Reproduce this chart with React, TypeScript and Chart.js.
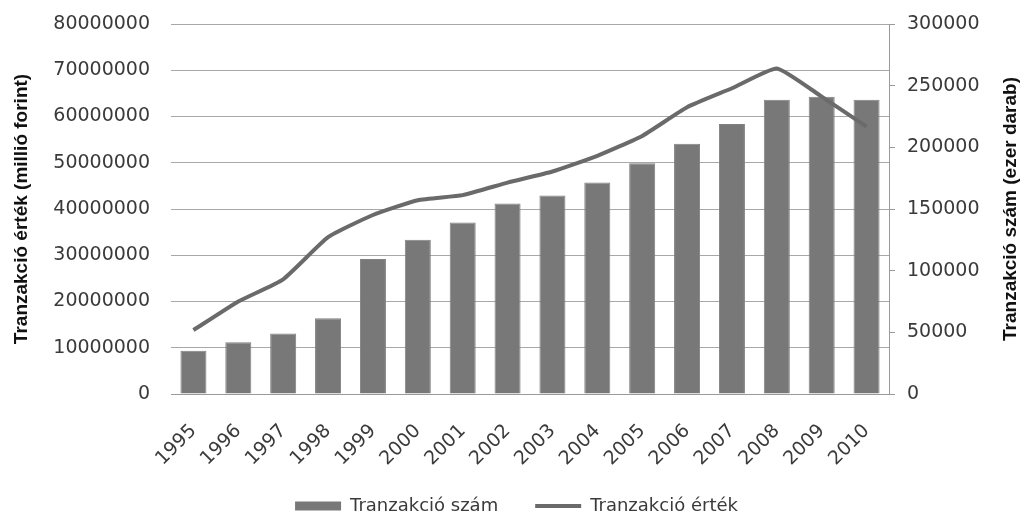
import React, { useEffect, useRef } from "react";
import { Chart, registerables } from "chart.js";

Chart.register(...registerables);

const years = ["1995", "1996", "1997", "1998", "1999", "2000", "2001", "2002", "2003", "2004", "2005", "2006", "2007", "2008", "2009", "2010"];
// Tranzakció szám (ezer darab) – right axis, bars
const tranzakcioSzam = [35000, 42000, 49000, 61500, 109500, 125000, 139000, 154500, 161000, 171500, 187000, 203000, 219000, 238500, 241000, 238500];
// Tranzakció érték (millió forint) – left axis, line
const tranzakcioErtek = [13800000, 20000000, 24800000, 33900000, 38700000, 41900000, 43000000, 45700000, 48100000, 51500000, 55800000, 62000000, 66100000, 70400000, 64300000, 57800000];

const leftAxis = { min: 0, max: 80000000, step: 10000000 };
const rightAxis = { min: 0, max: 300000, step: 50000 };

const seriesLabels = ["Tranzakció szám", "Tranzakció érték"];
const leftTitle = "Tranzakció érték (millió forint)";
const rightTitle = "Tranzakció szám (ezer darab)";

const BAR_COLOR = "#787878";
const LINE_COLOR = "#6a6a6a";
const GRID_COLOR = "#a8a8a8";
const AXIS_COLOR = "#9a9a9a";
const TEXT_COLOR = "#3a3a3a";
const TICK_FONT = "'DejaVu Sans'";

const titlesPlugin = {
  id: "axisTitles",
  afterDraw(chart: any) {
    const ctx = chart.ctx;
    const area = chart.chartArea;
    const cy = (area.top + area.bottom) / 2;
    ctx.save();
    ctx.font = "bold 19px 'Liberation Sans'";
    ctx.fillStyle = "#111111";
    ctx.textAlign = "center";
    ctx.textBaseline = "middle";
    ctx.save();
    ctx.translate(22, cy);
    ctx.rotate(-Math.PI / 2);
    ctx.fillText(leftTitle, 0, 0);
    ctx.restore();
    ctx.save();
    ctx.translate(1011, cy);
    ctx.rotate(-Math.PI / 2);
    ctx.fillText(rightTitle, 0, 0);
    ctx.restore();
    ctx.restore();
  },
};

export default function App() {
  const canvasRef = useRef<HTMLCanvasElement | null>(null);

  useEffect(() => {
    document.body.style.margin = "0";
    const canvas = canvasRef.current;
    if (!canvas) return;
    const chart = new Chart(canvas, {
      type: "bar",
      data: {
        labels: years,
        datasets: [
          {
            type: "bar",
            label: seriesLabels[0],
            data: tranzakcioSzam,
            yAxisID: "yRight",
            backgroundColor: BAR_COLOR,
            borderColor: "#808080",
            borderWidth: 1,
            categoryPercentage: 1,
            barPercentage: 0.58,
            order: 2,
          },
          {
            type: "line",
            label: seriesLabels[1],
            data: tranzakcioErtek,
            yAxisID: "yLeft",
            borderColor: LINE_COLOR,
            backgroundColor: LINE_COLOR,
            borderWidth: 4,
            pointRadius: 0,
            tension: 0.15,
            fill: false,
            order: 1,
          },
        ],
      } as any,
      options: {
        responsive: false,
        animation: false,
        layout: { padding: { top: 24, left: 0, right: 0, bottom: -7 } },
        plugins: {
          tooltip: { enabled: false },
          legend: {
            position: "bottom",
            labels: {
              usePointStyle: true,
              pointStyleWidth: 46,
              boxHeight: 9,
              padding: 37,
              color: TEXT_COLOR,
              font: { family: TICK_FONT, size: 18 },
              generateLabels: (c: any) =>
                c.data.datasets.map((ds: any, i: number) => ({
                  text: ds.label,
                  fillStyle: i === 0 ? BAR_COLOR : LINE_COLOR,
                  strokeStyle: i === 0 ? BAR_COLOR : LINE_COLOR,
                  lineWidth: i === 0 ? 0 : 4,
                  pointStyle: i === 0 ? "rect" : "line",
                  hidden: false,
                  datasetIndex: i,
                  fontColor: TEXT_COLOR,
                })),
            },
          },
        },
        scales: {
          x: {
            grid: { display: false, drawTicks: false },
            border: { display: true, color: AXIS_COLOR, width: 1 },
            ticks: {
              minRotation: 45,
              maxRotation: 45,
              color: TEXT_COLOR,
              font: { family: TICK_FONT, size: 19 },
              padding: 26,
            },
            afterFit: (s: any) => {
              s.height = 66;
              // let the rotated year labels reach below the scale box
              s._computeLabelArea = () => undefined;
            },
          },
          yLeft: {
            type: "linear",
            position: "left",
            min: leftAxis.min,
            max: leftAxis.max,
            grid: { color: GRID_COLOR, lineWidth: 1, drawTicks: true, tickLength: 21, tickColor: "rgba(0,0,0,0)" },
            border: { display: false },
            ticks: {
              stepSize: leftAxis.step,
              padding: 0,
              color: TEXT_COLOR,
              font: { family: TICK_FONT, size: 19 },
              callback: (v: any) => String(v),
            },
            afterFit: (s: any) => {
              s.width = 171;
            },
          },
          yRight: {
            type: "linear",
            position: "right",
            min: rightAxis.min,
            max: rightAxis.max,
            grid: { drawOnChartArea: false, drawTicks: true, tickLength: 6, color: AXIS_COLOR },
            border: { display: true, color: AXIS_COLOR, width: 1 },
            ticks: {
              stepSize: rightAxis.step,
              padding: 12,
              color: TEXT_COLOR,
              font: { family: TICK_FONT, size: 19 },
              callback: (v: any) => String(v),
            },
            afterFit: (s: any) => {
              s.width = 144;
            },
          },
        },
      } as any,
      plugins: [titlesPlugin],
    });
    return () => chart.destroy();
  }, []);

  return (
    <div style={{ width: 1033, height: 518, background: "#ffffff" }}>
      <canvas ref={canvasRef} width={1033} height={518} style={{ display: "block" }} />
    </div>
  );
}
